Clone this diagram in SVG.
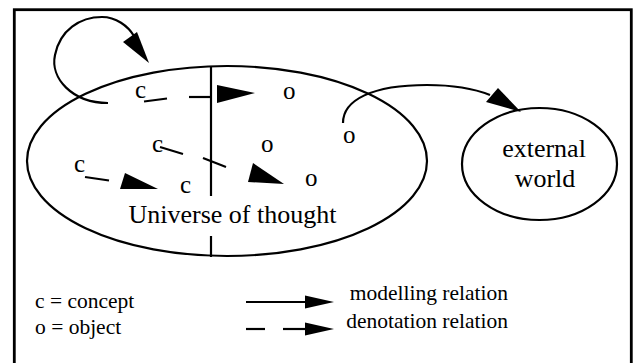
<svg xmlns="http://www.w3.org/2000/svg" width="635" height="363" viewBox="0 0 635 363">
<style>
.ln{fill:none;stroke:#000;stroke-width:2.2}
.ah{fill:#000;stroke:none}
text{fill:#000}
</style>
<rect x="0" y="0" width="635" height="363" fill="#fff"/>
<rect x="14.3" y="9.7" width="617" height="370" fill="none" stroke="#000" stroke-width="2.8"/>
<g id="universe">
<ellipse class="ln" cx="227" cy="161" rx="200" ry="95"/>
<line class="ln" x1="211" y1="66" x2="211" y2="196"/>
<line class="ln" x1="211" y1="236" x2="211" y2="257"/>
<text x="232.5" y="223" text-anchor="middle" font-family="'Liberation Serif', 'DejaVu Serif', serif" font-size="26">Universe of thought</text>
</g>
<g id="external" font-family="'Liberation Serif', 'DejaVu Serif', serif" font-size="26">
<ellipse class="ln" cx="539.5" cy="164" rx="77.5" ry="56"/>
<text x="544" y="157" text-anchor="middle">external</text>
<text x="545" y="187" text-anchor="middle">world</text>
</g>
<g id="items" font-family="'Liberation Serif', 'DejaVu Serif', serif" font-size="25">
<text x="135" y="98">c</text>
<text x="283" y="99">o</text>
<text x="152" y="152">c</text>
<text x="261" y="152">o</text>
<text x="343" y="143">o</text>
<text x="74" y="172">c</text>
<text x="180" y="193">c</text>
<text x="305" y="186">o</text>
</g>
<g id="connectors">
<path class="ln" d="M108,103 C72,103 50,78 55,55 C60,30 80,17 102,17 C116,17 128,26 134,36"/>
<polygon class="ah" points="123,42 137,32 149,63"/>
<path class="ln" d="M343,123 C343,100 372,85 427,85 C455,85 475,89 490,95"/>
<polygon class="ah" points="486,102 498,88 521,112"/>
<line class="ln" x1="144" y1="101.5" x2="167" y2="98.5"/>
<line class="ln" x1="189" y1="97" x2="211" y2="97"/>
<polygon class="ah" points="217,85 217,103 255,93"/>
<line class="ln" x1="160" y1="147" x2="183" y2="154"/>
<line class="ln" x1="203" y1="158" x2="226" y2="167"/>
<polygon class="ah" points="253,163 248,182 284,184"/>
<line class="ln" x1="85" y1="177" x2="109" y2="180.5"/>
<polygon class="ah" points="125,173 120,189 158,189"/>
</g>
<g id="legend" font-family="'Liberation Serif', 'DejaVu Serif', serif" font-size="21.5">
<text x="35" y="308">c = concept</text>
<text x="35" y="334">o = object</text>
<line class="ln" x1="246" y1="302" x2="306" y2="302"/>
<polygon class="ah" points="305,295.5 305,308.5 334,302"/>
<line class="ln" x1="246" y1="329" x2="265" y2="329"/>
<line class="ln" x1="283" y1="329" x2="306" y2="329"/>
<polygon class="ah" points="305,322.5 305,335.5 334,329"/>
<text x="508" y="300" text-anchor="end">modelling relation</text>
<text x="508" y="328" text-anchor="end">denotation relation</text>
</g>
</svg>
